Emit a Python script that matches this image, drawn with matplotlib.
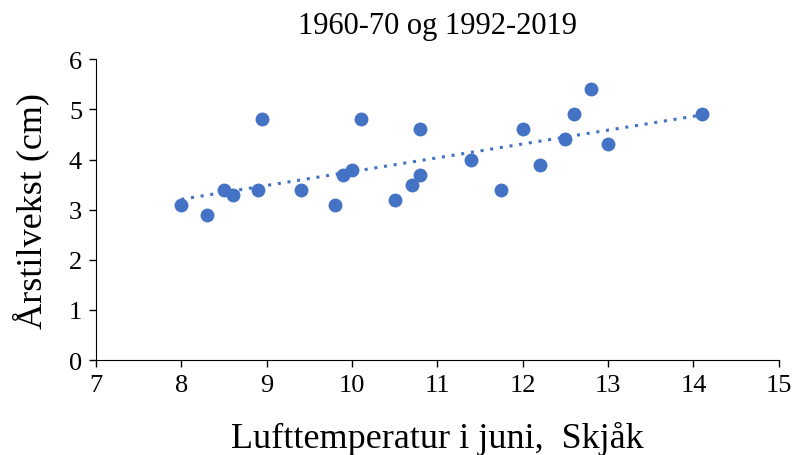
import matplotlib
matplotlib.use("Agg")
import matplotlib.pyplot as plt
import numpy as np

plt.rcParams['font.family'] = ['Liberation Serif', 'DejaVu Serif']

temp = [8.0, 8.3, 8.5, 8.6, 8.9, 8.95, 9.4, 9.8, 9.9, 10.0, 10.1, 10.5,
        10.7, 10.8, 10.8, 11.4, 11.75, 12.0, 12.2, 12.5, 12.6, 12.8, 13.0, 14.1]
growth = [3.1, 2.9, 3.4, 3.3, 3.4, 4.8, 3.4, 3.1, 3.7, 3.8, 4.8, 3.2,
          3.5, 4.6, 3.7, 4.0, 3.4, 4.6, 3.9, 4.4, 4.9, 5.4, 4.3, 4.9]

blue = '#4472C4'

fig = plt.figure(figsize=(7.93, 4.56), dpi=100)
ax = fig.add_axes([0.121, 0.208, 0.861, 0.66])

# linear trend
k, m = np.polyfit(temp, growth, 1)
xt = np.array([min(temp), max(temp)])
ax.plot(xt, k*xt + m, color=blue, linestyle=(0, (1, 2.2)), linewidth=2.2)

ax.scatter(temp, growth, s=100, color=blue, zorder=3, linewidths=0)

ax.set_xlim(7, 15)
ax.set_ylim(0, 6)
ax.set_xticks(range(7, 16))
ax.set_yticks(range(0, 7))
ax.spines['top'].set_visible(False)
ax.spines['right'].set_visible(False)
ax.tick_params(labelsize=19, length=5, width=1, direction='out', pad=5)
ax.set_title('1960-70 og 1992-2019', fontsize=22, pad=19)
ax.set_xlabel('Lufttemperatur i juni,  Skjåk', fontsize=26, labelpad=18)
ax.set_ylabel('Årstilvekst (cm)', fontsize=26, labelpad=14)

fig.savefig('out.png', dpi=100)
